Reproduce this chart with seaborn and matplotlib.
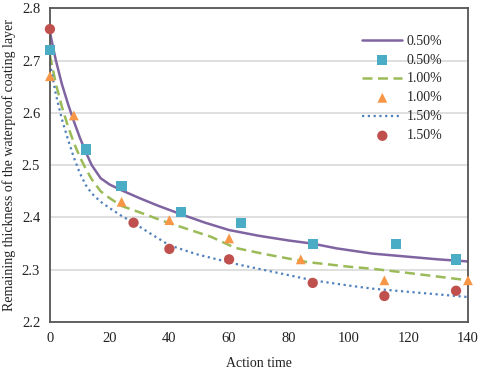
import matplotlib
matplotlib.use("Agg")
import matplotlib.pyplot as plt
import seaborn as sns
import pandas as pd

# measured points
sq_x = [0, 12, 24, 44, 64, 88, 116, 136]
sq_y = [2.72, 2.53, 2.46, 2.41, 2.39, 2.35, 2.35, 2.32]
tri_x = [0, 8, 24, 40, 60, 84, 112, 140]
tri_y = [2.67, 2.595, 2.43, 2.395, 2.36, 2.32, 2.28, 2.28]
cir_x = [0, 28, 40, 60, 88, 112, 136]
cir_y = [2.76, 2.39, 2.34, 2.32, 2.275, 2.25, 2.26]

# fitted curves
l05_x = [0, 2, 4, 6, 8, 10, 12, 14, 17, 20, 24, 30, 36, 44, 52, 60, 70, 80, 88, 96, 108, 120, 130, 140]
l05_y = [2.754, 2.70, 2.655, 2.618, 2.584, 2.553, 2.525, 2.500, 2.475, 2.463, 2.452, 2.437, 2.423, 2.406, 2.390, 2.376, 2.365, 2.356, 2.350, 2.341, 2.331, 2.325, 2.320, 2.316]
l10_x = [0, 2, 4, 6, 8, 10, 12, 14, 17, 20, 24, 30, 38, 46, 54, 62, 72, 86, 100, 108, 120, 130, 140]
l10_y = [2.710, 2.655, 2.612, 2.575, 2.543, 2.516, 2.493, 2.473, 2.450, 2.437, 2.422, 2.410, 2.393, 2.378, 2.363, 2.342, 2.330, 2.315, 2.306, 2.302, 2.294, 2.287, 2.280]
l15_x = [0, 2, 4, 6, 8, 10, 12, 14, 17, 20, 24, 28, 34, 40, 49, 56, 64, 74, 88, 100, 108, 120, 130, 140]
l15_y = [2.695, 2.635, 2.588, 2.550, 2.515, 2.485, 2.462, 2.446, 2.430, 2.418, 2.403, 2.390, 2.368, 2.347, 2.330, 2.320, 2.309, 2.297, 2.280, 2.270, 2.264, 2.258, 2.253, 2.248]

labels = ["0.50%", "1.00%", "1.50%"]
xticks = [0, 20, 40, 60, 80, 100, 120, 140]
yticks = [2.2, 2.3, 2.4, 2.5, 2.6, 2.7, 2.8]

sns.set_style("white")
plt.rcParams["font.family"] = ["Liberation Serif", "DejaVu Serif"]

fig = plt.figure(figsize=(4.8, 3.72), dpi=100)
ax = fig.add_axes([0.104, 0.134, 0.871, 0.844])

c_l05, c_sq = "#8064A2", "#4BACC6"
c_l10, c_tri = "#9BBB59", "#F79646"
c_l15, c_cir = "#4F81BD", "#C0504D"

sns.lineplot(x=l05_x, y=l05_y, ax=ax, color=c_l05, lw=1.8, label=labels[0])
sns.scatterplot(x=sq_x, y=sq_y, ax=ax, color=c_sq, marker="s", s=55, edgecolor="none", label=labels[0], zorder=3)
sns.lineplot(x=l10_x, y=l10_y, ax=ax, color=c_l10, lw=1.8, label=labels[1])
ax.lines[-1].set_linestyle((0, (4, 2.2)))
sns.scatterplot(x=tri_x, y=tri_y, ax=ax, color=c_tri, marker="^", s=50, edgecolor="none", label=labels[1], zorder=3)
sns.lineplot(x=l15_x, y=l15_y, ax=ax, color=c_l15, lw=1.6, label=labels[2])
ax.lines[-1].set_linestyle((0, (1, 1.6)))
sns.scatterplot(x=cir_x, y=cir_y, ax=ax, color=c_cir, marker="o", s=55, edgecolor="none", label=labels[2], zorder=3)

for coll in ax.collections:
    coll.set_clip_on(False)

ax.set_xlim(0, 140)
ax.set_ylim(2.2, 2.8)
ax.set_xticks(xticks)
ax.set_yticks(yticks)
ax.set_yticklabels([f"{v:.1f}" for v in yticks])
ax.tick_params(axis="both", length=0, labelsize=10.5, colors="#222222", pad=7)
ax.yaxis.grid(True, color="#D9D9D9", lw=1.2)
ax.xaxis.grid(False)
ax.set_axisbelow(True)
for sp in ax.spines.values():
    sp.set_color("#555555")
    sp.set_linewidth(1.3)

ax.set_xlabel("Action time", fontsize=10, color="#222222", labelpad=9)
ax.set_ylabel("Remaining thickness of the waterproof coating layer", fontsize=10, color="#222222", labelpad=4)

h, l = ax.get_legend_handles_labels()
ax.legend(h, l, loc="upper right", bbox_to_anchor=(0.962, 0.947), frameon=False, fontsize=10,
          handlelength=2.9, labelspacing=0.43, handletextpad=0.3, borderaxespad=0.3)

fig.savefig("out.png", dpi=100)
